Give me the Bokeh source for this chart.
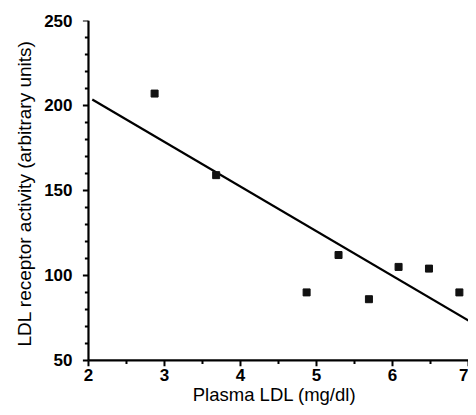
from bokeh.plotting import figure
from bokeh.models import Range1d, FixedTicker
from bokeh.embed import file_html
from bokeh.resources import INLINE

# Data
plasma_ldl = [2.87, 3.68, 4.87, 5.29, 5.69, 6.08, 6.48, 6.88]
receptor_activity = [207, 159, 90, 112, 86, 105, 104, 90]
fit_x = [2.05, 7.0]
fit_y = [203.5, 73.4]
x_ticks = [2, 3, 4, 5, 6, 7]
x_minor = [2.5, 3.5, 4.5, 5.5, 6.5]
y_ticks = [50, 100, 150, 200, 250]
y_minor = [60, 70, 80, 90, 110, 120, 130, 140, 160, 170, 180, 190, 210, 220, 230, 240]
x_min, x_max = 2, 7
y_min, y_max = 50, 250

# small extension of the frame so that outward tick marks remain visible
x_pad = 0.105
y_pad = 3.6

p = figure(width=468, height=407, output_backend="svg", toolbar_location=None,
           x_range=Range1d(x_min - x_pad, x_max), y_range=Range1d(y_min - y_pad, y_max),
           min_border_left=80, min_border_right=0, min_border_top=20, min_border_bottom=0)
p.outline_line_color = None
p.grid.visible = False
p.background_fill_color = None
p.border_fill_color = None

# axis lines and tick marks
p.segment(x0=[x_min, x_min], y0=[y_min, y_min], x1=[x_max, x_min], y1=[y_min, y_max],
          line_color="black", line_width=2.2)
p.segment(x0=x_ticks, y0=[y_min] * len(x_ticks), x1=x_ticks,
          y1=[y_min - y_pad] * len(x_ticks), line_color="black", line_width=2)
p.segment(x0=x_minor, y0=[y_min] * len(x_minor), x1=x_minor,
          y1=[y_min - y_pad * 0.6] * len(x_minor), line_color="black", line_width=2)
p.segment(x0=[x_min] * len(y_ticks), y0=y_ticks, x1=[x_min - x_pad * 0.7] * len(y_ticks),
          y1=y_ticks, line_color="black", line_width=2)
p.segment(x0=[x_min] * len(y_minor), y0=y_minor, x1=[x_min - x_pad * 0.45] * len(y_minor),
          y1=y_minor, line_color="black", line_width=2)

p.line(fit_x, fit_y, line_color="black", line_width=2.2)
p.scatter(plasma_ldl, receptor_activity, marker="square", size=7, fill_color="#111111", line_color="#111111")

p.xaxis.ticker = FixedTicker(ticks=x_ticks, minor_ticks=[])
p.yaxis.ticker = FixedTicker(ticks=y_ticks, minor_ticks=[])

for ax in (p.xaxis[0], p.yaxis[0]):
    ax.axis_line_color = None
    ax.major_tick_line_color = None
    ax.minor_tick_line_color = None
    ax.major_tick_out = 0
    ax.major_tick_in = 0
    ax.minor_tick_out = 0
    ax.minor_tick_in = 0
    ax.major_label_text_font = "Liberation Sans"
    ax.major_label_text_font_style = "bold"
    ax.major_label_text_font_size = "17px"
    ax.major_label_text_color = "black"
    ax.axis_label_text_font = "Liberation Sans"
    ax.axis_label_text_font_style = "normal"
    ax.axis_label_text_color = "black"

p.xaxis.axis_label = "Plasma LDL (mg/dl)"
p.yaxis.axis_label = "LDL receptor activity (arbitrary units)"
p.xaxis.axis_label_text_font_size = "18.5px"
p.yaxis.axis_label_text_font_size = "19px"
p.xaxis.major_label_standoff = 2
p.yaxis.major_label_standoff = 8
p.xaxis.axis_label_standoff = 0
p.yaxis.axis_label_standoff = 6

open("out.html", "w").write(file_html(p, INLINE))
